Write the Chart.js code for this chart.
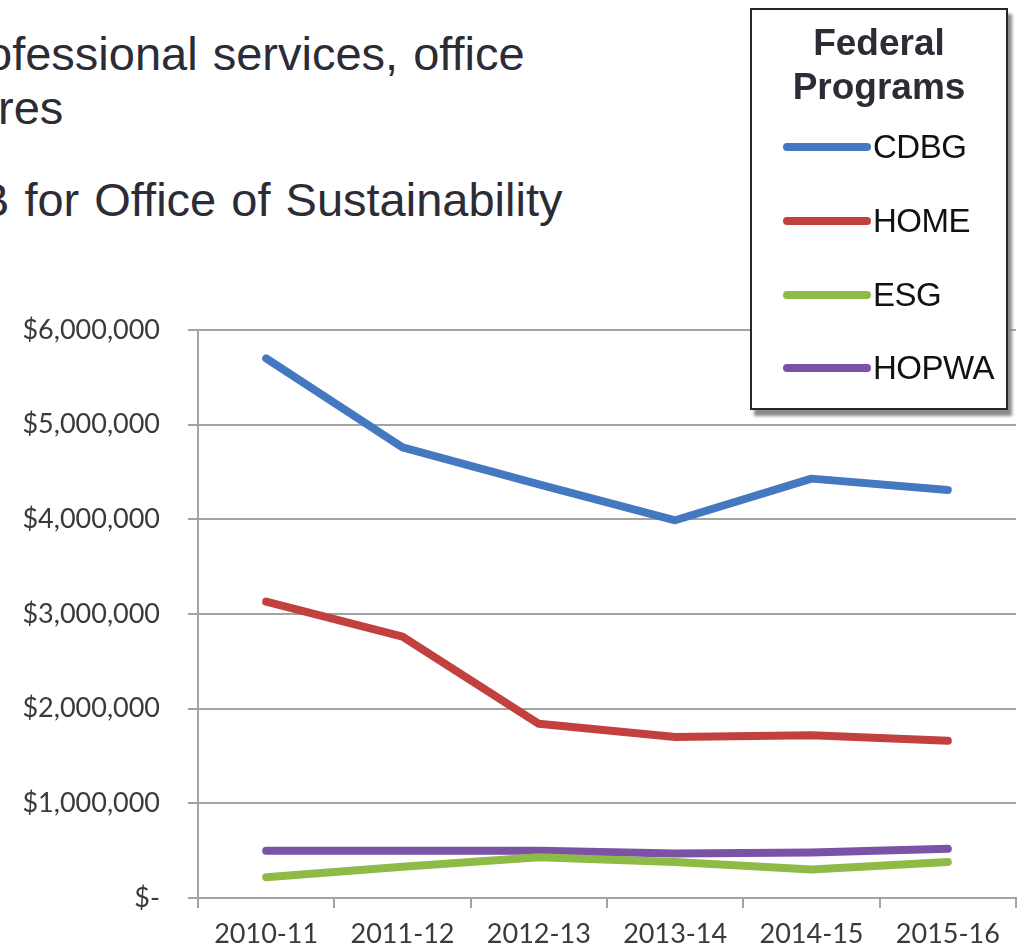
<!DOCTYPE html>
<html>
<head>
<meta charset="utf-8">
<script src="https://cdn.jsdelivr.net/npm/chart.js@4.4.0/dist/chart.umd.min.js"></script>
<style>
  html, body { margin: 0; padding: 0; background: #fff; overflow: hidden; }
  #page { position: relative; width: 1019px; height: 951px; overflow: hidden; }
  .slide {
    position: absolute;
    font-family: "Liberation Sans", Arial, sans-serif;
    font-size: 47px;
    line-height: 47px;
    word-spacing: 2px;
    color: #2c2c36;
    white-space: nowrap;
  }
  #chart { position: absolute; left: 0; top: 0; }
  #legendBox {
    position: absolute; left: 750px; top: 8px;
    width: 254px; height: 398px;
    border: 2px solid #26262e;
    background: #fff;
    box-shadow: 4px 6px 3px #8a8a8a;
    font-family: "Liberation Sans", Arial, sans-serif;
  }
  #legendTitle {
    position: absolute; left: 0; top: 11px; width: 100%;
    text-align: center; font-weight: bold; font-size: 37px; line-height: 44px;
    color: #2c2c36;
  }
  .row { position: absolute; left: 31px; height: 36px; display: flex; align-items: center; }
  .swatch { width: 88px; height: 8px; border-radius: 4px; }
  .label { font-size: 33px; color: #111; margin-left: 2px; letter-spacing: -0.5px; }
</style>
</head>
<body>
<div id="page">
  <div class="slide" style="left:-14px; top:30px;">ofessional services, office</div>
  <div class="slide" style="left:-2px; top:84px;">res</div>
  <div class="slide" style="left:-22px; top:176px;">B for Office of Sustainability</div>

  <canvas id="chart" width="1019" height="951"></canvas>

  <div id="legendBox">
    <div id="legendTitle">Federal<br>Programs</div>
  </div>
</div>

<script>
// ========== DATA ========== //
const years = ["2010-11", "2011-12", "2012-13", "2013-14", "2014-15", "2015-16"];
const cdbg  = [5700000, 4760000, 4370000, 3990000, 4430000, 4310000];
const home  = [3130000, 2760000, 1840000, 1700000, 1720000, 1660000];
const esg   = [220000, 330000, 430000, 380000, 300000, 380000];
const hopwa = [500000, 500000, 500000, 470000, 480000, 520000];

const programs = ["CDBG", "HOME", "ESG", "HOPWA"];
const colors = ["#4479c2", "#c2403e", "#8dbb45", "#7a52a6"];
const yTicks = [0, 1000000, 2000000, 3000000, 4000000, 5000000, 6000000];

// ========== LEGEND (custom box) ========== //
const rowTops = [119, 193, 267, 340];
const box = document.getElementById("legendBox");
programs.forEach((name, i) => {
  let row = document.createElement("div");
  row.className = "row";
  row.style.top = rowTops[i] + "px";
  row.innerHTML = `<div class="swatch" style="background:${colors[i]}"></div><div class="label">${name}</div>`;
  box.appendChild(row);
});

// ========== CHART ========== //
const series = [cdbg, home, esg, hopwa];
const gridColor = "#a3a3a3";
const tickFont = { family: "Lato", size: 27 };

new Chart(document.getElementById("chart"), {
  type: "line",
  data: {
    labels: years,
    datasets: series.map((vals, i) => ({
      label: programs[i],
      data: vals,
      borderColor: colors[i],
      backgroundColor: colors[i],
      borderWidth: 8,
      borderCapStyle: "round",
      borderJoinStyle: "round",
      pointRadius: 0,
      tension: 0,
      fill: false
    }))
  },
  options: {
    responsive: false,
    animation: false,
    layout: { padding: { top: 330, right: 3, left: 0, bottom: 0 } },
    plugins: { legend: { display: false }, tooltip: { enabled: false } },
    scales: {
      x: {
        offset: true,
        grid: { offset: true, drawOnChartArea: false, drawTicks: true, tickLength: 10, color: gridColor, lineWidth: 2 },
        border: { color: gridColor, width: 2 },
        ticks: { color: "#3a3a3a", font: tickFont, padding: 10, maxRotation: 0, autoSkip: false },
        afterFit: s => { s.height = 53; }
      },
      y: {
        min: 0,
        max: 6000000,
        afterBuildTicks: s => { s.ticks = yTicks.map(v => ({ value: v })); },
        grid: { color: gridColor, lineWidth: 2, tickLength: 10 },
        border: { color: gridColor, width: 2 },
        ticks: {
          color: "#3a3a3a",
          font: tickFont,
          padding: 28,
          callback: v => v === 0 ? "$-" : "$" + v.toLocaleString("en-US")
        },
        afterFit: s => { s.width = 198; }
      }
    }
  }
});
</script>
</body>
</html>
